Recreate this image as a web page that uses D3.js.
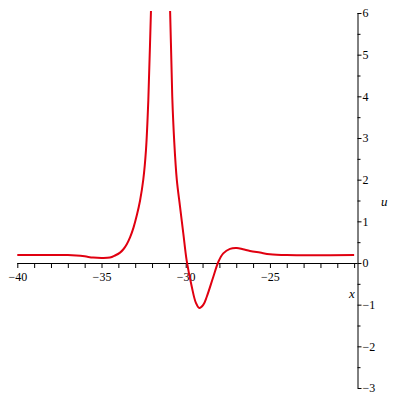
<!DOCTYPE html>
<html>
<head>
<meta charset="utf-8">
<script src="https://cdn.jsdelivr.net/npm/d3@7"></script>
<style>
  body { margin: 0; background: #fff; }
  svg { display: block; }
  .axis line, .axis path { stroke: #000; }
  .lbl { font-family: "Liberation Serif", serif; font-style: italic; font-size: 13px; }
</style>
</head>
<body>
<script>
// values
var xs = [-40, -38, -37, -36.5, -36, -35.5, -35, -34.5, -34.2, -33.9, -33.7, -33.5, -33.3,
          -33.1, -32.9, -32.71, -32.52, -32.36, -32.22, -32.06, -31.9, -31.5, -31.1, -30.93, -30.8,
          -30.68, -30.53, -30.34, -30.14, -29.94, -29.64, -29.4, -29.19, -28.95, -28.75,
          -28.36, -28.06, -27.77, -27.37, -26.97, -26.6, -26.18, -25.59, -25, -24, -20];
var us = [0.19, 0.19, 0.19, 0.18, 0.16, 0.13, 0.12, 0.13, 0.18, 0.25, 0.33, 0.45, 0.62,
          0.85, 1.15, 1.5, 2.0, 2.71, 3.91, 6.1, 8, 11, 8, 6.1, 4.0,
          2.9, 2.0, 1.36, 0.7, 0.05, -0.57, -0.95, -1.08, -1.0, -0.81,
          -0.33, 0.03, 0.23, 0.34, 0.36, 0.33, 0.29, 0.25, 0.21, 0.19, 0.19];
var xMajor = [-40, -35, -30, -25, -20];
var yMajor = [-3, -2, -1, 0, 1, 2, 3, 4, 5, 6];

var w = 400, h = 400;
var svg = d3.select("body").append("svg").attr("width", w).attr("height", h);

var x = d3.scaleLinear().domain([-40, -19.8]).range([17.3, 357.5]);
var y = d3.scaleLinear().domain([-3, 6]).range([388, 13]);

function axisFont(g) {
  g.attr("font-family", "Liberation Serif").attr("font-size", 12);
}

svg.append("clipPath").attr("id", "clip")
  .append("rect")
  .attr("x", 0).attr("y", y(6) - 2)
  .attr("width", w).attr("height", y(-3) - y(6) + 2);

// x axis: minor ticks every unit, labels every 5
svg.append("g").attr("class", "axis")
  .attr("transform", "translate(0," + y(0) + ")")
  .call(d3.axisBottom(x).tickValues(d3.range(-40, -19, 1)).tickSize(5).tickFormat(""))
  .call(function(g) { g.select(".domain").attr("d", "M" + x(-40) + ",0.5H" + x(-19.8)); });

svg.append("g").attr("class", "axis")
  .attr("transform", "translate(0," + y(0) + ")")
  .call(d3.axisBottom(x).tickValues(xMajor.slice(0, 4)).tickSize(0).tickPadding(9))
  .call(axisFont)
  .call(function(g) { g.select(".domain").remove(); });

// y axis on the right
svg.append("g").attr("class", "axis")
  .attr("transform", "translate(" + x(-19.8) + ",0)")
  .call(d3.axisRight(y).tickValues(d3.range(-2.5, 6, 1)).tickSize(3).tickFormat(""))
  .call(function(g) { g.select(".domain").remove(); });

svg.append("g").attr("class", "axis")
  .attr("transform", "translate(" + x(-19.8) + ",0)")
  .call(d3.axisRight(y).tickValues(yMajor).tickSize(4).tickPadding(1))
  .call(axisFont)
  .call(function(g) { g.select(".domain").attr("d", "M0.5," + y(6) + "V" + y(-3)); });

svg.append("text").attr("class", "lbl").attr("x", 381).attr("y", 206).text("u");
svg.append("text").attr("class", "lbl").attr("x", 349).attr("y", 298).text("x");

var line = d3.line()
  .x(function(d, i) { return x(xs[i]); })
  .y(function(d) { return y(d); })
  .curve(d3.curveCatmullRom.alpha(0.5));

svg.append("path")
  .datum(us)
  .attr("clip-path", "url(#clip)")
  .attr("d", line)
  .attr("fill", "none")
  .attr("stroke", "#e00010")
  .attr("stroke-width", 2);
</script>
</body>
</html>
